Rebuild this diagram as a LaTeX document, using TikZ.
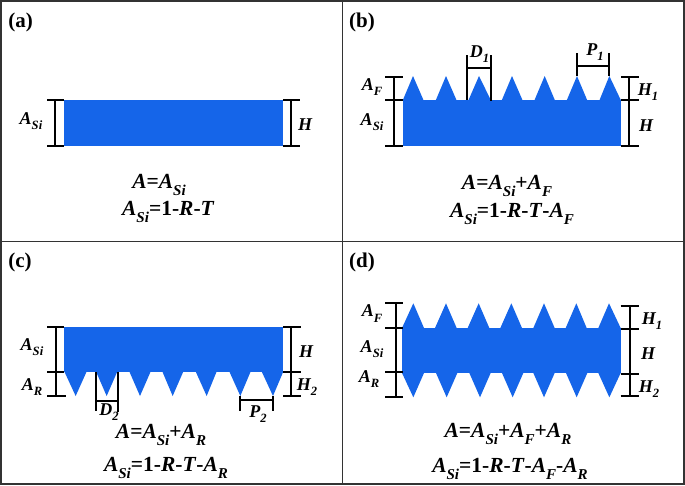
\documentclass[tikz,border=0pt]{standalone}
\usepackage{fontspec}
\setmainfont{Liberation Serif}
\definecolor{siblue}{HTML}{1565E9}
\newcommand{\sbs}[1]{\raisebox{-.3em}{\scalebox{.7}{#1}}}
\newcommand{\mA}[1]{A\sbs{#1}}
\newcommand{\up}[1]{\textup{#1}}
\tikzset{
  panelframe/.style={draw=black!80,line width=1.6pt},
  dimline/.style={draw=black,line width=1.9pt},
  panel/.style={inner sep=0pt,font=\fontsize{21}{24}\selectfont\bfseries},
  lab/.style={inner sep=0pt,font=\fontsize{18}{20}\selectfont\bfseries\itshape},
  formula/.style={inner sep=0pt,font=\fontsize{21.5}{24}\selectfont\bfseries\itshape},
  silicon/.style={fill=siblue,draw=none}
}
\newcommand{\teeth}[4]{\foreach \l/\p/\r in {#2}{\fill[silicon] ({#1+\l/3},#3) -- ({#1+\p/3},#4) -- ({#1+\r/3},#3) -- cycle;}}
\newcommand{\htick}[3]{\draw[dimline] (#1,#3) -- (#2,#3);}
\begin{document}
\begin{tikzpicture}[x=1pt,y=-1pt]
\useasboundingbox (0,0) rectangle (685,485);
\fill[white] (0,0) rectangle (685,485);
% frame
\draw[panelframe] (1,1) rectangle (684,484);
\draw[panelframe] (342.5,1) -- (342.5,484);
\draw[panelframe] (1,241.5) -- (684,241.5);
\node[panel] (la) at (20.7,22) {(a)};
\node[panel] (lb) at (362,22) {(b)};
\node[panel] (lc) at (20,262) {(c)};
\node[panel] (ld) at (362,262) {(d)};

% (a)
\fill[silicon] (64,100) rectangle (283,146);
\draw[dimline] (55,100) -- (55,146);
\htick{47}{64}{100}\htick{47}{64}{146}
\draw[dimline] (291,100) -- (291,146);
\htick{283}{300}{100}\htick{283}{300}{146}
\node[lab] (a1) at (31,121) {\mA{Si}};
\node[lab] (a2) at (305,125) {H};
\node[formula] (a3) at (159,185) {A\up{=}\mA{Si}};
\node[formula] (a4) at (168,212) {\mA{Si}\up{=1-}R\up{-}T};

% (b)
\fill[silicon] (402.7,100) rectangle (621,146);
\teeth{340}{188/219/251,287/318/350,385/417/453,485/516/548,583/614/645,680/711/742,778/808/843}{100.5}{76}
\draw[dimline] (394,77) -- (394,146);
\htick{385}{402.7}{77}\htick{385}{402.7}{100}\htick{385}{402.7}{146}
\draw[dimline] (629.3,77) -- (629.3,146);
\htick{621}{639}{77}\htick{621}{639}{100}\htick{621}{639}{146}
\draw[dimline] (467.3,55) -- (467.3,100);
\draw[dimline] (491.3,55) -- (491.3,101);
\draw[dimline] (467.3,68) -- (491.3,68);
\draw[dimline] (576.7,53) -- (576.7,76);
\draw[dimline] (609.3,53) -- (609.3,76);
\draw[dimline] (576.7,66) -- (609.3,66);
\node[lab] (b1) at (479.5,54) {D\sbs{1}};
\node[lab] (b2) at (595,52) {P\sbs{1}};
\node[lab] (b3) at (372,87) {\mA{F}};
\node[lab] (b4) at (372,122) {\mA{Si}};
\node[lab] (b5) at (648,92) {H\sbs{1}};
\node[lab] (b6) at (646,126) {H};
\node[formula] (b7) at (507,186) {A\up{=}\mA{Si}\up{+}\mA{F}};
\node[formula] (b8) at (512,214) {\mA{Si}\up{=1-}R\up{-}T\up{-}\mA{F}};

% (c)
\fill[silicon] (64.3,326.7) rectangle (283.3,372);
\teeth{0}{193/227/260,288/320/352,388/420/452,487/518/550,587/620/650,688/721/752,785/819/850}{371.5}{396}
\draw[dimline] (56,327) -- (56,396);
\htick{47}{64.3}{327}\htick{47}{64.3}{371.7}\htick{47}{66}{396}
\draw[dimline] (291,327) -- (291,396);
\htick{283}{300.7}{327}\htick{283}{300.7}{371.7}\htick{283}{300.7}{396}
\draw[dimline] (96,372) -- (96,411);
\draw[dimline] (117.7,372) -- (117.7,412);
\draw[dimline] (96,400.7) -- (117.7,400.7);
\draw[dimline] (240.3,396) -- (240.3,410.7);
\draw[dimline] (272.7,396) -- (272.7,410.7);
\draw[dimline] (240.3,400) -- (272.7,400);
\node[lab] (c1) at (32,347) {\mA{Si}};
\node[lab] (c2) at (32,387) {\mA{R}};
\node[lab] (c3) at (306,352) {H};
\node[lab] (c4) at (307,387) {H\sbs{2}};
\node[lab] (c5) at (109,412) {D\sbs{2}};
\node[lab] (c6) at (258,414) {P\sbs{2}};
\node[formula] (c7) at (161,435) {A\up{=}\mA{Si}\up{+}\mA{R}};
\node[formula] (c8) at (166,468) {\mA{Si}\up{=1-}R\up{-}T\up{-}\mA{R}};

% (d)
\fill[silicon] (402,327.7) rectangle (620.7,373.3);
\teeth{340}{186/220/252,285/318/350,383/416/448,481/514/546,580/612/644,677/709/740,775/807/842}{328}{303.3}
\teeth{340}{186/220/252,288/320/352,388/420/452,486/518/550,580/612/644,678/710/742,775/808/842}{373}{397.3}
\draw[dimline] (395.7,303.3) -- (395.7,397);
\htick{385}{402.7}{303.3}\htick{385}{402.7}{328}\htick{385}{402.7}{372.3}\htick{385}{402.7}{397}
\draw[dimline] (630.3,305.7) -- (630.3,395.7);
\htick{620.7}{639}{305.7}\htick{620.7}{639}{328.7}\htick{620.7}{639}{374.3}\htick{620.7}{639}{395.7}
\node[lab] (d1) at (372,313.5) {\mA{F}};
\node[lab] (d2) at (372,349) {\mA{Si}};
\node[lab] (d3) at (369,379) {\mA{R}};
\node[lab] (d4) at (652,321) {H\sbs{1}};
\node[lab] (d5) at (648,354) {H};
\node[lab] (d6) at (649,389) {H\sbs{2}};
\node[formula] (d7) at (508,434) {A\up{=}\mA{Si}\up{+}\mA{F}\up{+}\mA{R}};
\node[formula] (d8) at (510,469) {\mA{Si}\up{=1-}R\up{-}T\up{-}\mA{F}\up{-}\mA{R}};
\end{tikzpicture}
\end{document}
